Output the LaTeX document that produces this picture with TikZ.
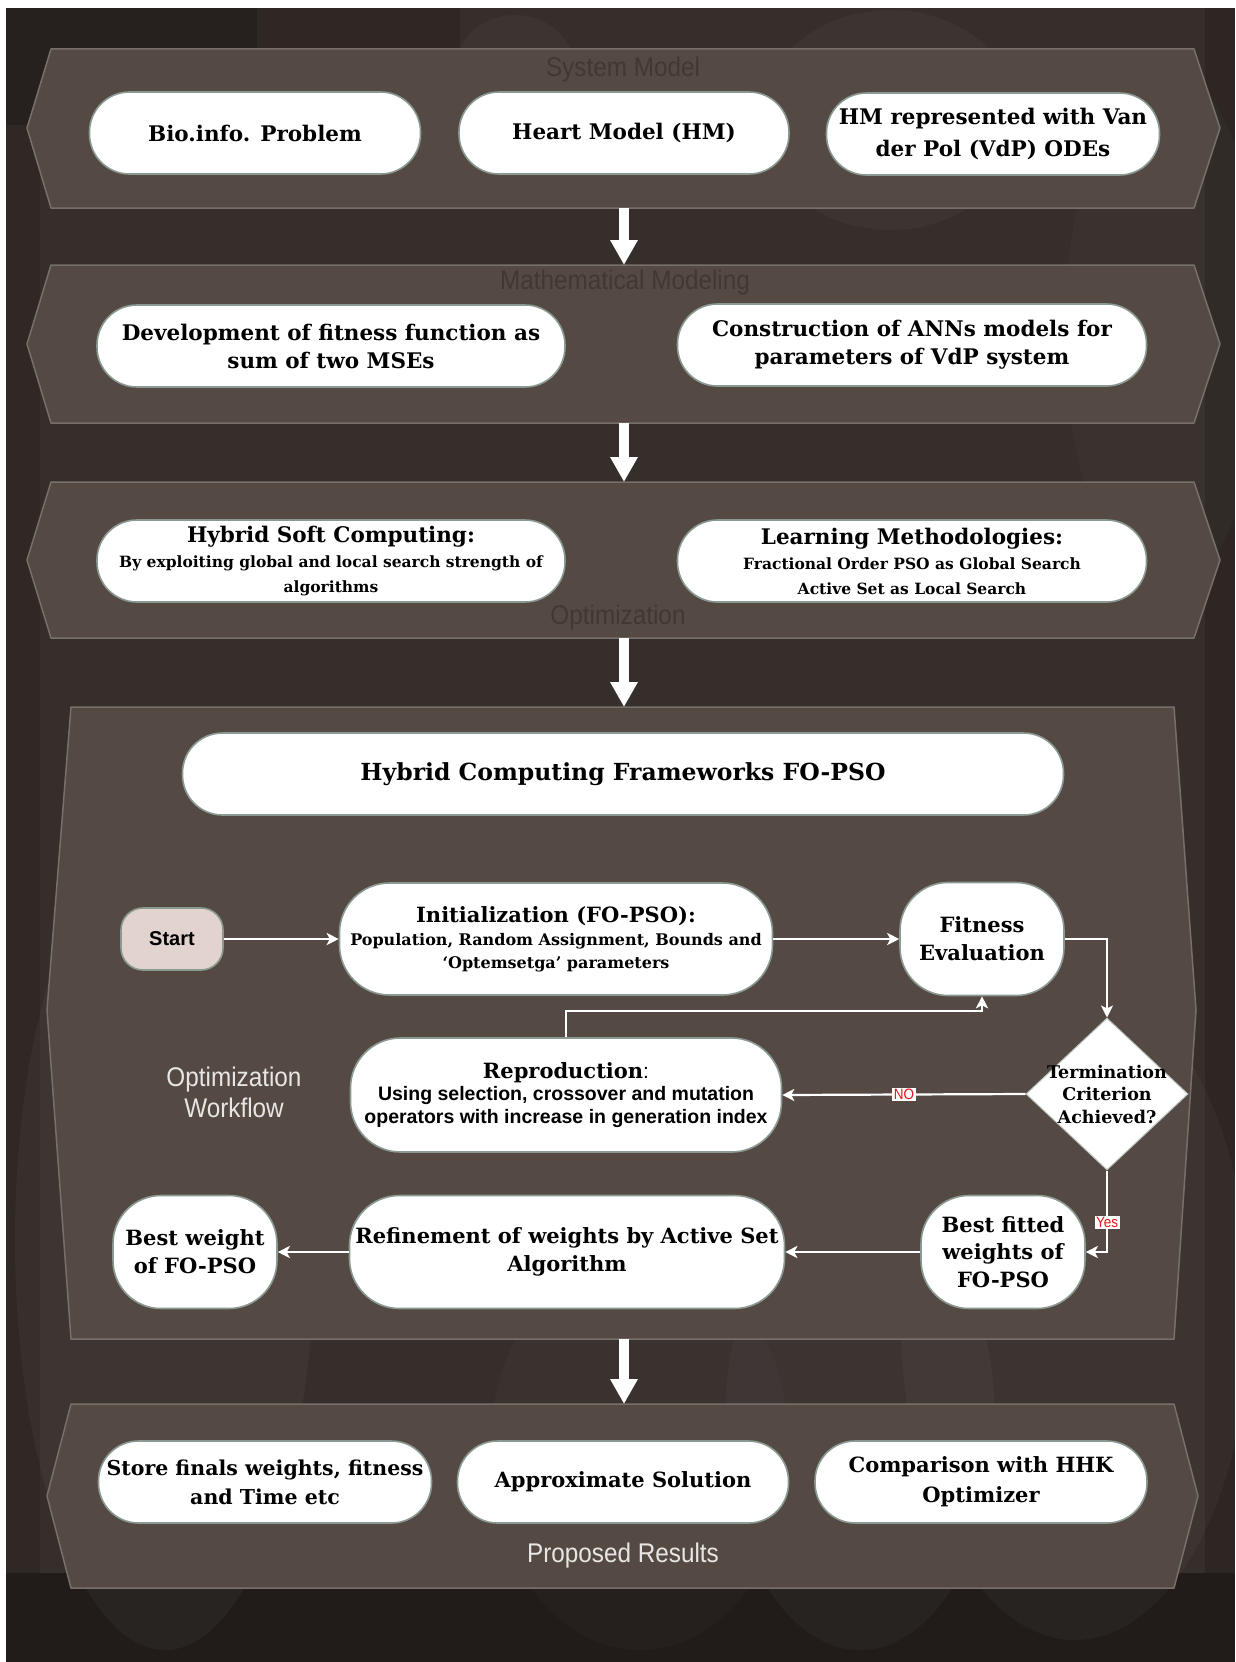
\documentclass[tikz,border=0pt]{standalone}
\usepackage{fontspec}
\setmainfont{DejaVu Serif}
\newfontfamily\capsans[FakeStretch=0.9]{Liberation Sans}
\newfontfamily\arialfont{Liberation Sans}
\usetikzlibrary{shapes.geometric,arrows.meta,calc}

\definecolor{bgbase}{HTML}{362E2B}
\definecolor{bgdark}{HTML}{211C1A}
\definecolor{bandfill}{HTML}{554A43}
\definecolor{bandline}{HTML}{77706A}
\definecolor{pillline}{HTML}{8A9A92}
\definecolor{bandtitle}{HTML}{413835}
\definecolor{titlelight}{HTML}{E8E6E4}
\definecolor{startfill}{HTML}{E2D3CF}
\definecolor{flagred}{HTML}{E8141C}

\newcommand\fsz[2]{\fontsize{#1}{#2}\selectfont}

\begin{document}
\begin{tikzpicture}[x=1pt,y=-1pt,
  band/.style={fill=bandfill, draw=bandline, line width=1.5pt, line join=round},
  pill/.style={draw=pillline, line width=1.6pt, fill=white, rounded corners=40pt,
    align=center, inner sep=0pt, font=\bfseries\fsz{21}{28}, text=black},
  bigpill/.style={pill, font=\bfseries\fsz{21.5}{28}},
  bandttl/.style={font=\capsans\fsz{27}{31}, text=bandtitle, inner sep=0pt},
  bigarrow/.style={draw=white, line width=10pt, -{Triangle[width=26pt,length=25pt]}},
  flow/.style={draw=white, line width=2.2pt, -{Stealth[length=12pt,width=12pt,inset=3pt]}},
  flag/.style={fill=white, inner sep=1.5pt, font=\capsans\fsz{15}{15}, text=flagred},
]
\useasboundingbox (0,0) rectangle (1235,1662);

% backdrop
\fill[white] (0,0) rectangle (1235,1662);
\fill[bgbase] (6,8) rectangle (1235,1662);
\fill[bgdark!75!bgbase] (6,8) rectangle (257,125);
\fill[bgdark!40!bgbase] (257,8) rectangle (460,125);
\fill[bgdark!35!bgbase] (6,125) rectangle (40,1573);
\fill[bgdark!45!bgbase] (1205,8) rectangle (1235,1573);
\fill[bgdark] (6,1573) rectangle (1235,1662);
\fill[white, opacity=0.035] (165,1240) ellipse (150 and 410);
\fill[white, opacity=0.03] (860,1420) ellipse (135 and 230);
\fill[white, opacity=0.03] (1075,1310) ellipse (175 and 330);
\fill[white, opacity=0.03] (515,70) ellipse (60 and 55);
\fill[white, opacity=0.03] (890,120) ellipse (130 and 110);
\fill[white, opacity=0.025] (1165,330) ellipse (100 and 260);
\fill[white, opacity=0.02] (640,1450) ellipse (150 and 200);

% stage bands
\draw[band] (51,49) -- (1194,49) -- (1220,128) -- (1194,208) -- (51,208) -- (27,128) -- cycle;
\draw[band] (51,265) -- (1194,265) -- (1220,344) -- (1194,423) -- (51,423) -- (27,344) -- cycle;
\draw[band] (51,482) -- (1194,482) -- (1220,560) -- (1194,638) -- (51,638) -- (27,560) -- cycle;
\draw[band] (71,707) -- (1174,707) -- (1196,1010) -- (1174,1339) -- (71,1339) -- (47,1010) -- cycle;
\draw[band] (71,1404) -- (1174,1404) -- (1198,1496) -- (1174,1588) -- (71,1588) -- (47,1496) -- cycle;

% band edges used by the stage arrows
\coordinate (b1s) at (624,208);
\coordinate (b2n) at (624,265);
\coordinate (b2s) at (624,423);
\coordinate (b3n) at (624,482);
\coordinate (b3s) at (624,638);
\coordinate (b4n) at (624,707);
\coordinate (b4s) at (624,1339);
\coordinate (b5n) at (624,1404);

\draw[bigarrow] (b1s) -- (b2n);
\draw[bigarrow] (b2s) -- (b3n);
\draw[bigarrow] (b3s) -- (b4n);
\draw[bigarrow] (b4s) -- (b5n);

% band titles
\node[bandttl] (t1) at (623,70) {System Model};
\node[bandttl] (t2) at (625,283) {Mathematical Modeling};
\node[bandttl] (t3) at (618,618) {Optimization};
\node[bandttl, text=titlelight] (t5) at (623,1555) {Proposed Results};
\node[bandttl, text=titlelight, align=center] (owf) at (234,1092) {Optimization\\Workflow};

% system model
\node[bigpill, minimum width=331pt, minimum height=82pt] (bio) at (255,133) {Bio.info. Problem};
\node[bigpill, minimum width=330pt, minimum height=82pt] (heart) at (624,133) {Heart Model (HM)};
\node[bigpill, minimum width=333pt, minimum height=82pt, font=\bfseries\fsz{21.5}{32}] (vdp) at (993,134) {HM represented with Van\\der Pol (VdP) ODEs};

% mathematical modeling
\node[bigpill, minimum width=468pt, minimum height=82pt] (dev) at (331,346) {Development of fitness function as\\sum of two MSEs};
\node[bigpill, minimum width=469pt, minimum height=82pt] (ann) at (912,345) {Construction of ANNs models for\\parameters of VdP system};

% optimization
\node[pill, minimum width=468pt, minimum height=82pt, font=\bfseries\fsz{15.5}{25}] (hsc) at (331,561)
  {\fsz{21.5}{25}Hybrid Soft Computing:\\\fsz{15.5}{25}By exploiting global and local search strength of\\\fsz{15.5}{25}algorithms};
\node[pill, minimum width=469pt, minimum height=82pt, font=\bfseries\fsz{15.5}{25}] (lm) at (912,561)
  {\fsz{21.5}{25}Learning Methodologies:\\\fsz{15.5}{25}Fractional Order PSO as Global Search\\\fsz{15.5}{25}Active Set as Local Search};

% workflow
\node[pill, minimum width=881pt, minimum height=82pt, font=\bfseries\fsz{23.5}{28}] (hcf) at (623,774) {Hybrid Computing Frameworks FO-PSO};

\node[draw=pillline, line width=1.6pt, fill=startfill, rounded corners=22pt, minimum width=102pt,
  minimum height=62pt, inner sep=0pt, font=\arialfont\bfseries\fsz{20}{24}] (start) at (172,939) {Start};
\node[pill, rounded corners=50pt, minimum width=433pt, minimum height=112pt, font=\bfseries\fsz{16}{23}] (init) at (556,939)
  {\fsz{21}{23}Initialization (FO-PSO):\\\fsz{16}{23}Population, Random Assignment, Bounds and\\\fsz{16}{23}‘Optemsetga’ parameters};
\node[pill, rounded corners=48pt, minimum width=164pt, minimum height=113pt] (fit) at (982,939) {Fitness\\Evaluation};

\node[diamond, draw=pillline!60, line width=1pt, fill=white, minimum width=162pt, minimum height=152pt, inner sep=0pt] (dec) at (1107,1094) {};
\node[align=center, font=\bfseries\fsz{17.5}{22.5}, inner sep=0pt] (dectxt) at (dec) {Termination\\Criterion\\Achieved?};

\node[pill, rounded corners=50pt, minimum width=431pt, minimum height=114pt, font=\arialfont\bfseries\fsz{19.5}{22.5}] (repro) at (566,1095)
  {{\rmfamily\fsz{21}{22.5}Reproduction{\arialfont\mdseries:}}\\Using selection, crossover and mutation\\operators with increase in generation index};

\node[pill, rounded corners=48pt, minimum width=164pt, minimum height=113pt] (bestw) at (195,1252) {Best weight\\of FO-PSO};
\node[pill, rounded corners=50pt, minimum width=435pt, minimum height=113pt] (refine) at (567,1252) {Refinement of weights by Active Set\\Algorithm};
\node[pill, rounded corners=48pt, minimum width=164pt, minimum height=113pt, font=\bfseries\fsz{21}{27.5}] (bestfit) at (1003,1252) {Best fitted\\weights of\\FO-PSO};

% proposed results
\node[pill, minimum width=333pt, minimum height=82pt, font=\bfseries\fsz{20.5}{29}] (store) at (265,1482) {Store finals weights, fitness\\and Time etc};
\node[pill, minimum width=331pt, minimum height=82pt] (approx) at (623,1482) {Approximate Solution};
\node[pill, minimum width=332pt, minimum height=82pt, font=\bfseries\fsz{21}{30}] (comp) at (981,1482) {Comparison with HHK\\Optimizer};

% workflow connectors
\draw[flow] (start) -- (init);
\draw[flow] (init) -- (fit);
\draw[flow] (fit.east) -| (dec.north);
\draw[flow] (dec.west) -- node[flag] (nolbl) {NO} (repro.east);
\draw[flow] (repro.north) -- ++(0,-26) -| (fit.south);
\draw[flow] (dec.south) |- node[flag, pos=0.32] (yeslbl) {Yes} (bestfit.east);
\draw[flow] (bestfit) -- (refine);
\draw[flow] (refine) -- (bestw);
\end{tikzpicture}
\end{document}
